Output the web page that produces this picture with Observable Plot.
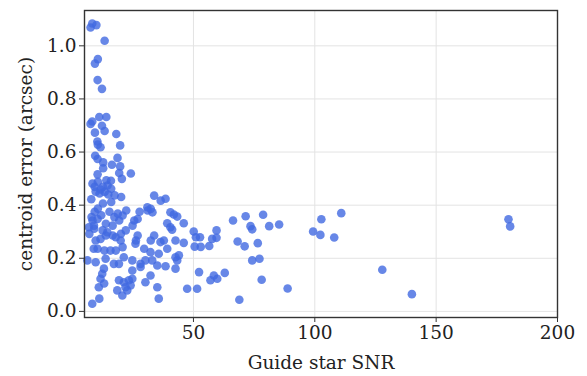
<!DOCTYPE html>
<html><head><meta charset="utf-8">
<script src="https://cdn.jsdelivr.net/npm/d3@7"></script>
<script src="https://cdn.jsdelivr.net/npm/@observablehq/plot@0.6"></script>
<style>body{margin:0;background:#fff;} svg text{font-family:"DejaVu Serif" !important;}</style>
</head><body><div id="chart"></div>
<script>
const snr = [8.3,7.6,10.0,13.4,10.6,9.4,10.5,12.3,11.2,14.1,8.3,7.6,12.3,13.4,9.4,18.2,10.4,10.6,11.7,19.8,
9.5,10.5,18.7,12.8,16.4,19.8,12.8,24.2,10.5,19.4,20.5,16.0,10.6,14.1,9.3,12.7,16.1,13.4,11.3,17.5,
20.2,7.9,16.1,12.7,10.6,9.3,15.4,18.8,22.3,27.8,12.0,8.4,14.6,11.7,9.7,14.9,33.8,36.5,38.5,31.1,
32.4,33.1,31.0,40.5,41.9,43.3,46.0,39.2,40.5,41.2,50.1,51.0,52.7,59.5,57.7,59.5,37.8,36.4,42.6,46.0,
50.5,53.0,56.5,66.3,68.2,71.5,8.4,10.5,13.9,16.7,19.4,25.6,27.0,24.9,7.1,9.1,12.6,13.9,16.7,18.0,
20.1,22.1,27.0,26.3,29.7,32.4,33.8,10.5,13.3,18.0,20.8,17.4,20.8,8.0,9.7,11.7,20.0,26.1,8.9,15.8,
32.3,35.7,39.2,44.0,43.3,42.6,6.3,9.7,13.8,17.2,19.3,21.3,24.8,28.2,30.2,33.0,35.1,38.5,42.6,13.1,
12.4,24.8,28.2,32.3,11.7,19.3,21.3,23.4,24.8,30.2,11.0,18.6,22.0,24.1,20.7,22.7,35.1,47.4,51.5,35.7,
11.2,8.3,52.3,58.4,57.0,59.8,62.9,78.7,73.5,74.2,81.2,85.3,71.1,76.5,74.2,77.2,78.1,88.8,68.9,102.7,
110.9,99.3,102.3,108.0,127.8,179.8,180.5,140.0,6.9,9.0,14.5,13.2];
const centroidError = [1.084,1.069,1.078,1.019,0.950,0.933,0.871,0.838,0.732,0.732,0.715,0.706,0.699,0.679,0.673,0.668,0.640,0.628,0.618,0.625,
0.586,0.574,0.578,0.561,0.552,0.546,0.539,0.519,0.516,0.521,0.499,0.492,0.488,0.494,0.469,0.469,0.462,0.450,0.444,0.437,
0.431,0.422,0.412,0.406,0.387,0.375,0.375,0.368,0.380,0.375,0.362,0.481,0.474,0.459,0.451,0.440,0.436,0.417,0.424,0.380,
0.386,0.373,0.392,0.373,0.365,0.357,0.332,0.332,0.317,0.308,0.301,0.279,0.279,0.305,0.273,0.277,0.267,0.261,0.267,0.258,
0.244,0.243,0.246,0.342,0.263,0.358,0.342,0.348,0.330,0.323,0.342,0.342,0.348,0.323,0.292,0.311,0.305,0.286,0.286,0.279,
0.292,0.305,0.286,0.267,0.236,0.267,0.286,0.236,0.229,0.229,0.242,0.355,0.361,0.355,0.267,0.273,0.267,0.255,0.236,0.229,
0.223,0.217,0.236,0.211,0.192,0.204,0.192,0.185,0.198,0.179,0.179,0.204,0.192,0.179,0.192,0.192,0.173,0.170,0.161,0.161,
0.142,0.154,0.167,0.135,0.123,0.117,0.110,0.117,0.123,0.110,0.091,0.079,0.091,0.098,0.060,0.079,0.091,0.085,0.085,0.048,
0.048,0.029,0.148,0.135,0.117,0.123,0.145,0.364,0.321,0.309,0.321,0.327,0.245,0.257,0.192,0.198,0.119,0.086,0.044,0.347,
0.370,0.301,0.288,0.278,0.157,0.347,0.320,0.065,0.317,0.323,0.298,0.105];
const xTicks = [50, 100, 150, 200];
const yTicks = [0.0, 0.2, 0.4, 0.6, 0.8, 1.0];
const xLabel = "Guide star SNR";
const yLabel = "centroid error (arcsec)";

const data = snr.map((s, i) => ({snr: s, err: centroidError[i]}));
const font = "DejaVu Serif";
const fs = 18.5;
const chart = Plot.plot({
  width: 587, height: 376,
  marginLeft: 84, marginRight: 30, marginTop: 10, marginBottom: 59,
  style: {fontFamily: font, fontSize: fs + "px", color: "#222", background: "#fff"},
  x: {domain: [5.1, 200]},
  y: {domain: [-0.023, 1.133]},
  marks: [
    Plot.gridX(xTicks.slice(0, 3), {stroke: "#e3e3e3", strokeOpacity: 1, strokeWidth: 1}),
    Plot.gridY(yTicks, {stroke: "#e3e3e3", strokeOpacity: 1, strokeWidth: 1}),
    Plot.dot(data, {x: "snr", y: "err", r: 4.3, fill: "#4169e1", fillOpacity: 0.8, stroke: "none"}),
    Plot.frame({stroke: "#333", strokeWidth: 1.4}),
    Plot.axisX(xTicks, {tickSize: 5, tickPadding: 3, label: null, fontSize: fs, fontFamily: font, fill: "#222", stroke: "#333"}),
    Plot.axisY(yTicks, {tickSize: 5, tickPadding: 3, label: null, fontSize: fs, fontFamily: font, fill: "#222", stroke: "#333", tickFormat: d => d.toFixed(1)}),
    Plot.text([xLabel], {frameAnchor: "bottom", dy: 46, fontSize: fs, fontFamily: font, fill: "#222", textAnchor: "middle", lineAnchor: "middle"}),
    Plot.text([yLabel], {frameAnchor: "left", dx: -58, rotate: -90, fontSize: fs, fontFamily: font, fill: "#222", textAnchor: "middle", lineAnchor: "middle"})
  ]
});
d3.select(chart).selectAll("text").attr("font-family", font).style("font-family", font);
document.getElementById("chart").appendChild(chart);
</script>
</body></html>
